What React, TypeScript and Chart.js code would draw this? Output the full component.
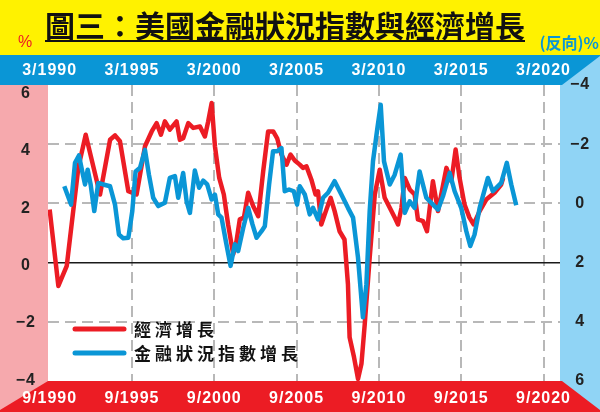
import React, { useEffect, useRef } from "react";
import { Chart, registerables } from "chart.js";

Chart.register(...registerables);

// ---------- text ----------
const titleText = "圖三：美國金融狀況指數與經濟增長";
const leftUnit = "%";
const rightUnit = "(反向)%";
const gdpLabel = "經濟增長";
const fciLabel = "金融狀況指數增長";

// ---------- ticks ----------
const xTickYears = [1990, 1995, 2000, 2005, 2010, 2015, 2020];
const topTickPrefix = "3/";
const bottomTickPrefix = "9/";
const leftTicks = [6, 4, 2, 0, -2, -4];
const rightTicks = [-4, -2, 0, 2, 4, 6];

// ---------- data: economic growth (%, left axis) ----------
const gdpDates = [
  1990.0, 1990.53, 1991.04, 1991.74, 1992.19, 1993.06, 1993.67, 1993.97, 1994.27, 1994.78,
  1995.28, 1995.79, 1996.2, 1996.5, 1996.76, 1997.0, 1997.3, 1997.71, 1997.91, 1998.11,
  1998.42, 1998.72, 1999.13, 1999.43, 1999.63, 1999.84, 2000.04, 2000.3, 2000.58, 2000.84,
  2001.15, 2001.35, 2001.55, 2001.8, 2002.06, 2002.36, 2002.67, 2002.97, 2003.27, 2003.58,
  2003.82, 2004.08, 2004.39, 2004.63, 2004.89, 2005.19, 2005.39, 2005.6, 2005.9, 2006.15,
  2006.3, 2006.5, 2006.81, 2007.07, 2007.31, 2007.61, 2007.91, 2008.12, 2008.22, 2008.49,
  2008.73, 2008.94, 2009.14, 2009.44, 2009.75, 2010.05, 2010.35, 2010.66, 2010.96, 2011.16,
  2011.37, 2011.57, 2011.87, 2012.17, 2012.37, 2012.68, 2012.92, 2013.28, 2013.59, 2014.1,
  2014.4, 2014.66, 2014.9, 2015.2, 2015.5, 2015.75, 2016.12, 2016.52, 2017.02, 2017.43,
  2017.55,
];
const gdpValues = [
  1.79, -0.79, -0.11, 3.2, 4.32, 2.3, 4.15, 4.3, 4.1, 2.41,
  2.3, 3.93, 4.43, 4.71, 4.32, 4.77, 4.49, 4.77, 4.15, 4.2,
  4.71, 4.55, 4.6, 4.26, 4.77, 5.39, 3.93, 2.86, 2.3, 1.29,
  0.28, 0.73, 1.46, 1.52, 2.36, 1.91, 1.57, 3.08, 4.43, 4.43,
  4.2, 3.65, 3.31, 3.65, 3.45, 3.31, 3.2, 3.25, 2.8, 2.3,
  2.41, 1.29, 1.79, 2.19, 1.74, 1.06, 0.78, -0.73, -2.52, -3.2,
  -3.93, -3.42, -2.08, 0.17, 2.3, 3.14, 2.19, 1.85, 1.52, 1.29,
  1.85, 2.86, 2.47, 2.3, 1.46, 1.4, 1.06, 2.75, 1.74, 3.2,
  2.75, 3.82, 2.86, 1.96, 1.52, 1.29, 1.74, 2.13, 2.36, 2.64,
  2.86,
];

// ---------- data: financial conditions index (right axis, reversed) ----------
const fciDates = [
  1990.89, 1991.3, 1991.54, 1991.78, 1991.98, 1992.15, 1992.31, 1992.49, 1992.71, 1992.95,
  1993.26, 1993.67, 1993.97, 1994.21, 1994.47, 1994.78, 1995.02, 1995.22, 1995.49, 1995.79,
  1996.03, 1996.29, 1996.6, 1997.0, 1997.3, 1997.61, 1997.81, 1998.11, 1998.32, 1998.52,
  1998.82, 1999.08, 1999.33, 1999.57, 1999.84, 2000.04, 2000.24, 2000.44, 2000.7, 2000.99,
  2001.25, 2001.45, 2001.76, 2002.06, 2002.32, 2002.57, 2002.87, 2003.07, 2003.33, 2003.57,
  2003.82, 2004.08, 2004.28, 2004.54, 2004.83, 2005.03, 2005.19, 2005.5, 2005.8, 2006.0,
  2006.3, 2006.61, 2006.91, 2007.31, 2007.72, 2008.12, 2008.43, 2008.73, 2009.03, 2009.24,
  2009.44, 2009.64, 2009.91, 2010.11, 2010.31, 2010.66, 2010.96, 2011.32, 2011.57, 2011.87,
  2012.17, 2012.47, 2012.88, 2013.18, 2013.59, 2013.89, 2014.3, 2014.6, 2015.0, 2015.31,
  2015.55, 2015.81, 2016.12, 2016.62, 2016.92, 2017.43, 2017.77, 2018.04, 2018.34,
];
const fciValues = [
  -0.58, 0.04, -1.37, -1.62, -1.08, -0.64, -1.14, -0.64, 0.26, -0.69,
  -0.64, -0.58, 0.04, 1.05, 1.18, 1.16, 0.26, -1.08, -1.2, -1.81,
  -0.97, -0.19, 0.09, -0.02, -0.86, -0.92, -0.19, -1.03, -0.07, 0.32,
  -1.11, -0.53, -0.77, -0.64, -0.13, -0.3, 0.37, 0.48, 1.27, 2.11,
  1.38, 1.61, 0.82, 0.15, 0.71, 1.16, 0.94, 0.77, -0.64, -1.76,
  -1.76, -1.87, -0.41, -0.47, -0.41, 0.04, -0.58, -0.3, 0.37, 0.15,
  0.54, -0.19, -0.36, -0.75, -0.3, 0.15, 0.48, 1.83, 3.85, 2.73,
  0.26, -1.42, -2.55, -3.33, -1.42, -0.64, -0.97, -1.65, 0.32, -0.07,
  0.15, -1.08, -0.19, -0.02, 0.21, -0.24, -1.03, -0.41, 0.15, 0.94,
  1.44, 1.05, 0.15, -0.86, -0.41, -0.69, -1.37, -0.64, 0.06,
];

// ---------- colours ----------
const YELLOW = "#fff200";
const BAND_BLUE = "#0a96d6";
const BAND_RED = "#ec1c24";
const PANEL_PINK = "#f6a9ad";
const PANEL_LIGHTBLUE = "#90d4f5";
const LINE_RED = "#ec1c24";
const LINE_BLUE = "#0a96d6";
const GRID = "#b8b8b8";
const NUM_FONT = '"Liberation Sans", Arial, sans-serif';
const CJK_FONT = '"Noto Sans CJK TC", "Noto Sans CJK SC", sans-serif';

const fmt = (v: number) => (v < 0 ? "\u2212" + Math.abs(v) : String(v));

export default function App() {
  const ref = useRef<HTMLCanvasElement>(null);

  useEffect(() => {
    document.body.style.margin = "0";
    const canvas = ref.current!;

    const decor = {
      id: "decor",
      beforeDraw(chart: any) {
        const { ctx, width, height, chartArea: a } = chart;
        ctx.save();
        ctx.fillStyle = "#ffffff";
        ctx.fillRect(0, 0, width, height);
        // yellow header
        ctx.fillStyle = YELLOW;
        ctx.fillRect(0, 0, width, a.top - 30);
        // blue top band
        ctx.fillStyle = BAND_BLUE;
        ctx.fillRect(0, a.top - 30, width, 30);
        // side panels
        ctx.fillStyle = PANEL_PINK;
        ctx.fillRect(0, a.top, a.left, a.bottom - a.top);
        ctx.fillStyle = PANEL_LIGHTBLUE;
        ctx.fillRect(a.right, a.top, width - a.right, a.bottom - a.top);
        ctx.beginPath();
        ctx.moveTo(a.right + 2, a.top);
        ctx.lineTo(width, a.top - 29);
        ctx.lineTo(width, a.top);
        ctx.closePath();
        ctx.fill();
        // red bottom band
        ctx.fillStyle = BAND_RED;
        ctx.fillRect(0, a.bottom, width, height - a.bottom);
        ctx.fillStyle = PANEL_PINK;
        ctx.beginPath();
        ctx.moveTo(0, a.bottom);
        ctx.lineTo(a.left, a.bottom);
        ctx.lineTo(0, a.bottom + 29);
        ctx.closePath();
        ctx.fill();
        ctx.fillStyle = PANEL_LIGHTBLUE;
        ctx.beginPath();
        ctx.moveTo(a.right + 2, a.bottom);
        ctx.lineTo(width, a.bottom);
        ctx.lineTo(width, a.bottom + 29);
        ctx.closePath();
        ctx.fill();

        // title
        ctx.fillStyle = "#111";
        ctx.font = `bold 30px ${CJK_FONT}`;
        ctx.textAlign = "center";
        ctx.textBaseline = "middle";
        const tx = 285;
        ctx.fillText(titleText, tx, 26);
        const tw = ctx.measureText(titleText).width;
        ctx.fillRect(tx - tw / 2, 40, tw, 2);

        // units
        ctx.font = `16px ${NUM_FONT}`;
        ctx.fillStyle = LINE_RED;
        ctx.textAlign = "center";
        ctx.fillText(leftUnit, 25, 43);
        ctx.font = `bold 16px ${CJK_FONT}`;
        ctx.fillStyle = LINE_BLUE;
        ctx.textAlign = "right";
        ctx.fillText(rightUnit, 599, 43);
        ctx.restore();
        ctx.letterSpacing = "1px";
      },
      afterDraw(chart: any) {
        const { ctx } = chart;
        ctx.save();
        ctx.letterSpacing = "4px";
        const items = chart.data.datasets.map((d: any) => ({ label: d.label, color: d.borderColor }));
        const rows = [329, 353];
        items.forEach((it: any, i: number) => {
          const y = rows[i];
          ctx.strokeStyle = it.color;
          ctx.lineWidth = 5;
          ctx.lineCap = "round";
          ctx.beginPath();
          ctx.moveTo(75, y);
          ctx.lineTo(124, y);
          ctx.stroke();
          ctx.fillStyle = "#111";
          ctx.font = `bold 17px ${CJK_FONT}`;
          ctx.textAlign = "left";
          ctx.textBaseline = "middle";
          ctx.fillText(it.label, 134, y + 1);
        });
        ctx.restore();
      },
    };

    const setTicks = (vals: number[]) => (s: any) => {
      s.ticks = vals.map((v) => ({ value: v }));
    };
    const tickVal = (c: any) => (c.tick ? c.tick.value : NaN);

    const chart = new Chart(canvas, {
      type: "line",
      data: {
        datasets: [
          {
            label: gdpLabel,
            data: gdpDates.map((d, i) => ({ x: d, y: gdpValues[i] })),
            borderColor: LINE_RED,
            borderWidth: 4.5,
            borderJoinStyle: "round",
            pointRadius: 0,
            tension: 0,
            yAxisID: "y",
            xAxisID: "x",
            order: 1,
          },
          {
            label: fciLabel,
            data: fciDates.map((d, i) => ({ x: d, y: fciValues[i] })),
            borderColor: LINE_BLUE,
            borderWidth: 4.5,
            borderJoinStyle: "round",
            pointRadius: 0,
            tension: 0,
            yAxisID: "y2",
            xAxisID: "x",
            order: 0,
          },
        ],
      },
      options: {
        responsive: false,
        animation: false,
        devicePixelRatio: 1,
        layout: { padding: { top: 55, left: 0, right: 0, bottom: 0 } },
        plugins: { legend: { display: false }, tooltip: { enabled: false }, title: { display: false } },
        scales: {
          x: {
            type: "linear",
            position: "bottom",
            min: 1989.9,
            max: 2021,
            afterBuildTicks: setTicks(xTickYears),
            afterFit: (s: any) => {
              s.height = 31;
            },
            grid: {
              drawTicks: false,
              color: (c: any) => (tickVal(c) === 1990 ? "rgba(0,0,0,0)" : GRID),
              lineWidth: 2,
            },
            border: { display: false, dash: [11, 6] },
            ticks: {
              autoSkip: false,
              maxRotation: 0,
              padding: 8,
              color: "#ffffff",
              font: { family: NUM_FONT, size: 16, weight: "bold" },
              callback: (v: any) => bottomTickPrefix + v,
            },
          },
          x2: {
            type: "linear",
            position: "top",
            min: 1989.9,
            max: 2021,
            afterBuildTicks: setTicks(xTickYears),
            afterFit: (s: any) => {
              s.height = 30;
            },
            grid: { display: false, drawTicks: false },
            border: { display: false },
            ticks: {
              autoSkip: false,
              maxRotation: 0,
              padding: 5,
              color: "#ffffff",
              font: { family: NUM_FONT, size: 16, weight: "bold" },
              callback: (v: any) => topTickPrefix + v,
            },
          },
          y: {
            position: "left",
            min: -4,
            max: 6,
            afterBuildTicks: setTicks(leftTicks),
            afterFit: (s: any) => {
              s.width = 0;
            },
            ticks: { display: false },
            grid: {
              drawTicks: false,
              color: (c: any) => {
                const v = tickVal(c);
                if (v === 0) return "#1a1a1a";
                if (v === 6 || v === -4) return "rgba(0,0,0,0)";
                return GRID;
              },
              lineWidth: (c: any) => (tickVal(c) === 0 ? 1.5 : 2),
            },
            border: {
              display: false,
              dash: (c: any) => (tickVal(c) === 0 ? [] : [11, 6]),
            },
          },
          yl: {
            position: "left",
            min: -4.03,
            max: 6.3,
            afterBuildTicks: setTicks(leftTicks),
            afterFit: (s: any) => {
              s.width = 48;
            },
            grid: { display: false, drawTicks: false },
            border: { display: false },
            ticks: {
              crossAlign: "center",
              padding: 13,
              color: "#222222",
              font: { family: NUM_FONT, size: 16, weight: "bold" },
              callback: (v: any) => fmt(Number(v)),
            },
          },
          y2: {
            position: "right",
            min: -4,
            max: 6,
            reverse: true,
            afterBuildTicks: setTicks(rightTicks),
            afterFit: (s: any) => {
              s.width = 40;
            },
            grid: { display: false, drawTicks: false },
            border: { display: false },
            ticks: {
              crossAlign: "center",
              padding: 11,
              color: "#222222",
              font: { family: NUM_FONT, size: 16, weight: "bold" },
              callback: (v: any) => fmt(Number(v)),
            },
          },
        },
      },
      plugins: [decor],
    } as any);

    return () => chart.destroy();
  }, []);

  return (
    <div style={{ width: 600, height: 412, position: "relative" }}>
      <canvas ref={ref} width={600} height={412} style={{ display: "block" }} />
    </div>
  );
}
